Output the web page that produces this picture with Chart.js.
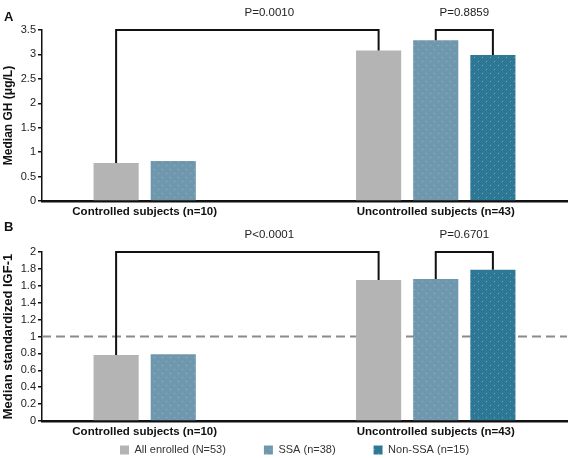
<!DOCTYPE html>
<html>
<head>
<meta charset="utf-8">
<script src="https://cdn.jsdelivr.net/npm/chart.js@4.4.1/dist/chart.umd.min.js"></script>
<style>
  html, body { margin: 0; padding: 0; background: #fff; overflow: hidden; }
  #wrap { position: relative; width: 570px; height: 458px; overflow: hidden; }
  #boxA { position: absolute; left: 0; top: 0; width: 570px; height: 220px; }
  #boxB { position: absolute; left: 0; top: 220px; width: 570px; height: 279px; }
</style>
</head>
<body>
<div id="wrap">
  <div id="boxA"><canvas id="chartA"></canvas></div>
  <div id="boxB"><canvas id="chartB"></canvas></div>
</div>
<script>
// data
var groups = ['Controlled subjects (n=10)', 'Uncontrolled subjects (n=43)'];
var seriesNames = ['All enrolled (N=53)', 'SSA (n=38)', 'Non-SSA (n=15)'];

var ghAll = [0.78, 3.08];
var ghSsa = [0.82, 3.29];
var ghNonSsa = [null, 2.99];
var ghTicks = [0, 0.5, 1, 1.5, 2, 2.5, 3, 3.5];
var ghPValues = ['P=0.0010', 'P=0.8859'];

var igfAll = [0.78, 1.67];
var igfSsa = [0.79, 1.68];
var igfNonSsa = [null, 1.79];
var igfTicks = [0, 0.2, 0.4, 0.6, 0.8, 1, 1.2, 1.4, 1.6, 1.8, 2];
var igfPValues = ['P<0.0001', 'P=0.6701'];
var igfNormal = 1;

// which bars each p-value bracket joins: [dataset, category]
var comparisons = [[[0, 0], [0, 1]], [[1, 1], [2, 1]]];

Chart.defaults.font.family = "'Liberation Sans', Arial, sans-serif";

var colors = ['#b4b4b4', '#6f97ad', '#2e7896'];

// stippled fill like the original bars
function dotted(base) {
  var c = document.createElement('canvas');
  c.width = 8; c.height = 8;
  var g = c.getContext('2d');
  g.fillStyle = base;
  g.fillRect(0, 0, 8, 8);
  g.fillStyle = 'rgba(200,230,220,0.45)';
  g.fillRect(2, 1, 1, 1);
  g.fillRect(6, 5, 1, 1);
  return g.createPattern(c, 'repeat');
}
var fills = [colors[0], dotted(colors[1]), dotted(colors[2])];

function extras(cfg) {
  return {
    id: 'extras',
    afterLayout: function (chart) {
      var lg = chart.legend;
      if (!cfg.legendY || !lg) return;
      var p = lg.options.labels.padding;
      var dy = cfg.legendY - (lg.top + p + 5.5);
      var start = (lg.left + p + lg.right - lg.lineWidths[0]) / 2;
      var dx = cfg.legendX - start;
      lg.top += dy; lg.bottom += dy;
      lg.left += dx; lg.right += dx;
    },
    beforeDatasetsDraw: function (chart) {
      if (cfg.refLine == null) return;
      var ctx = chart.ctx, a = chart.chartArea;
      var y = chart.scales.y.getPixelForValue(cfg.refLine);
      ctx.save();
      ctx.strokeStyle = '#8a8a8a';
      ctx.lineWidth = 2;
      ctx.setLineDash([9, 5]);
      ctx.beginPath();
      ctx.moveTo(a.left, y);
      ctx.lineTo(a.right, y);
      ctx.stroke();
      ctx.restore();
    },
    afterDatasetsDraw: function (chart) {
      var ctx = chart.ctx, top = chart.chartArea.top;
      ctx.save();
      ctx.strokeStyle = '#111';
      ctx.lineWidth = 2;
      ctx.lineJoin = 'miter';
      ctx.fillStyle = '#222';
      ctx.font = "11.5px 'Liberation Sans', Arial, sans-serif";
      ctx.textAlign = 'center';
      ctx.textBaseline = 'middle';
      comparisons.forEach(function (cmp, i) {
        var b1 = chart.getDatasetMeta(cmp[0][0]).data[cmp[0][1]];
        var b2 = chart.getDatasetMeta(cmp[1][0]).data[cmp[1][1]];
        ctx.beginPath();
        ctx.moveTo(b1.x, b1.y);
        ctx.lineTo(b1.x, top);
        ctx.lineTo(b2.x, top);
        ctx.lineTo(b2.x, b2.y);
        ctx.stroke();
        ctx.fillText(cfg.pValues[i], (b1.x + b2.x) / 2 + cfg.pShift[i], top - 17);
      });
      ctx.restore();
    },
    afterDraw: function (chart) {
      var ctx = chart.ctx, a = chart.chartArea;
      ctx.save();
      ctx.fillStyle = '#111';
      ctx.textBaseline = 'middle';
      // panel letter
      ctx.font = "bold 13px 'Liberation Sans', Arial, sans-serif";
      ctx.textAlign = 'left';
      ctx.fillText(cfg.letter, 4, cfg.letterY);
      // group labels centred under the bars that are present
      ctx.font = "bold 11.5px 'Liberation Sans', Arial, sans-serif";
      ctx.textAlign = 'center';
      groups.forEach(function (name, c) {
        var xs = [];
        chart.data.datasets.forEach(function (ds, d) {
          if (ds.data[c] != null) xs.push(chart.getDatasetMeta(d).data[c].x);
        });
        var mid = (Math.min.apply(null, xs) + Math.max.apply(null, xs)) / 2;
        ctx.fillText(name, mid, a.bottom + 11);
      });
      ctx.restore();
    }
  };
}

function makeChart(id, cfg) {
  var sets = [cfg.all, cfg.ssa, cfg.nonSsa].map(function (vals, i) {
    return {
      label: seriesNames[i],
      data: vals,
      backgroundColor: fills[i],
      borderWidth: 0,
      categoryPercentage: 0.653,
      barPercentage: 0.79
    };
  });
  return new Chart(document.getElementById(id), {
    type: 'bar',
    data: { labels: groups, datasets: sets },
    options: {
      responsive: true,
      maintainAspectRatio: false,
      animation: false,
      layout: { padding: { top: cfg.padTop, right: 3, left: 0, bottom: 0 } },
      plugins: {
        tooltip: { enabled: false },
        legend: {
          display: !!cfg.legendY,
          position: 'bottom',
          labels: {
            boxWidth: 9, boxHeight: 9, padding: 38,
            color: '#333',
            font: { size: 11 }
          }
        }
      },
      scales: {
        x: {
          afterFit: function (s) { s.height = 19; },
          grid: { display: false },
          border: { color: '#111', width: 2.5 },
          ticks: { display: false }
        },
        y: {
          min: 0,
          max: cfg.ticks[cfg.ticks.length - 1],
          afterBuildTicks: function (s) {
            s.ticks = cfg.ticks.map(function (v) { return { value: v }; });
          },
          afterFit: function (s) { s.width = 42; },
          border: { color: '#111', width: 1.5 },
          grid: { drawOnChartArea: false, color: '#111', lineWidth: 1.5, tickLength: 4 },
          ticks: {
            color: '#222',
            padding: 2,
            font: { size: 11 },
            callback: function (v) { return String(Math.round(v * 10) / 10); }
          },
          title: {
            display: true,
            text: cfg.title,
            color: '#111',
            font: { size: cfg.titleSize, weight: 'bold' },
            padding: { top: 1, bottom: 0 }
          }
        }
      }
    },
    plugins: [extras(cfg)]
  });
}

makeChart('chartA', {
  all: ghAll, ssa: ghSsa, nonSsa: ghNonSsa, ticks: ghTicks,
  pValues: ghPValues, pShift: [22, 0],
  title: 'Median GH (\u03bcg/L)', titleSize: 12,
  letter: 'A', letterY: 17, padTop: 30
});

makeChart('chartB', {
  all: igfAll, ssa: igfSsa, nonSsa: igfNonSsa, ticks: igfTicks,
  pValues: igfPValues, pShift: [22, 0], refLine: igfNormal,
  title: 'Median standardized IGF-1', titleSize: 13,
  letter: 'B', letterY: 7.5, padTop: 32,
  legendY: 230, legendX: 120
});
</script>
</body>
</html>
